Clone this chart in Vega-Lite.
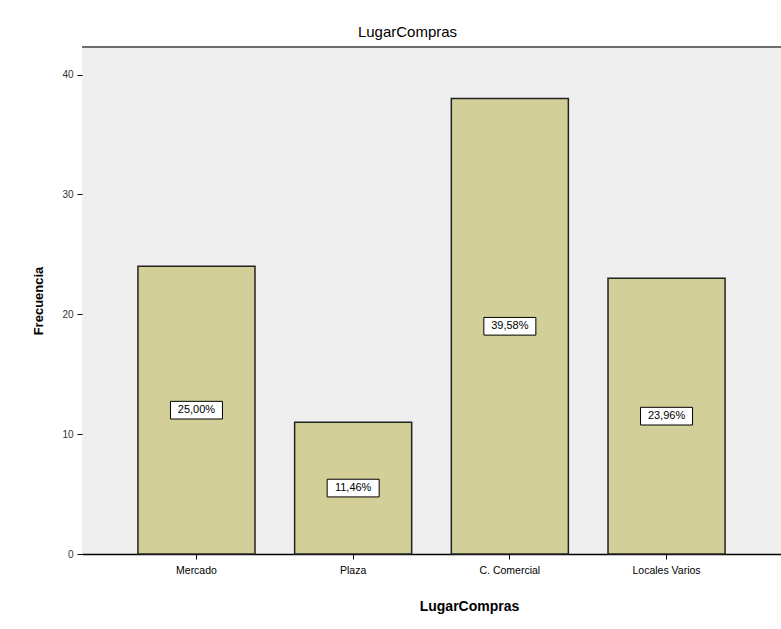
{
  "$schema": "https://vega.github.io/schema/vega-lite/v6.json",
  "width": 699,
  "height": 507,
  "autosize": "none",
  "padding": {"left": 82, "top": 47, "right": 0, "bottom": 75},
  "background": "white",
  "title": {"text": "LugarCompras", "fontSize": 15, "font": "Liberation Sans", "fontWeight": "normal", "color": "#000000", "offset": 6, "dx": -24},
  "config": {"view": {"fill": "#efefef", "stroke": null}, "font": "Liberation Sans"},
  "data": {"values": [
    {"lugar": "Mercado", "n": 24, "pct": "25,00%"},
    {"lugar": "Plaza", "n": 11, "pct": "11,46%"},
    {"lugar": "C. Comercial", "n": 38, "pct": "39,58%"},
    {"lugar": "Locales Varios", "n": 23, "pct": "23,96%"}
  ]},
  "transform": [{"calculate": "datum.n / 2", "as": "mid"}],
  "layer": [
    {
      "mark": {"type": "bar", "fill": "#d3cf98", "stroke": "#222222", "strokeWidth": 1.5},
      "encoding": {
        "x": {"field": "lugar", "type": "nominal", "sort": null,
          "scale": {"paddingInner": 0.253, "paddingOuter": 0.357},
          "axis": {"labelAngle": 0, "domainColor": "#000000", "domainWidth": 1.5, "tickColor": "#000000", "tickSize": 5,
            "labelFontSize": 10.5, "labelColor": "#000000", "labelPadding": 6,
            "title": "LugarCompras", "titleFontSize": 14, "titleFontWeight": "bold", "titleColor": "#000000",
            "titleX": 387, "titleY": 56, "titleBaseline": "alphabetic", "titleAlign": "center"}},
        "y": {"field": "n", "type": "quantitative",
          "scale": {"domain": [0, 42.3], "nice": false},
          "axis": {"values": [0, 10, 20, 30, 40], "grid": false, "domain": false, "tickColor": "#000000", "tickSize": 5,
            "labelFontSize": 10, "labelColor": "#333333", "labelPadding": 4,
            "title": "Frecuencia", "titleFontSize": 13, "titleFontWeight": "bold", "titleColor": "#000000", "titlePadding": 16}}
      }
    },
    {
      "mark": {"type": "rule", "color": "#6e6e6e", "strokeWidth": 2},
      "encoding": {"y": {"datum": 42.3, "type": "quantitative"}}
    },
    {
      "mark": {"type": "point", "shape": "M-1,-0.34L1,-0.34L1,0.34L-1,0.34Z", "size": 2704, "filled": true, "fill": "#ffffff", "stroke": "#000000", "strokeWidth": 1, "opacity": 1},
      "encoding": {
        "x": {"field": "lugar", "type": "nominal", "sort": null},
        "y": {"field": "mid", "type": "quantitative"}
      }
    },
    {
      "mark": {"type": "text", "fontSize": 11, "color": "#000000", "align": "center", "baseline": "middle"},
      "encoding": {
        "x": {"field": "lugar", "type": "nominal", "sort": null},
        "y": {"field": "mid", "type": "quantitative"},
        "text": {"field": "pct"}
      }
    }
  ]
}
